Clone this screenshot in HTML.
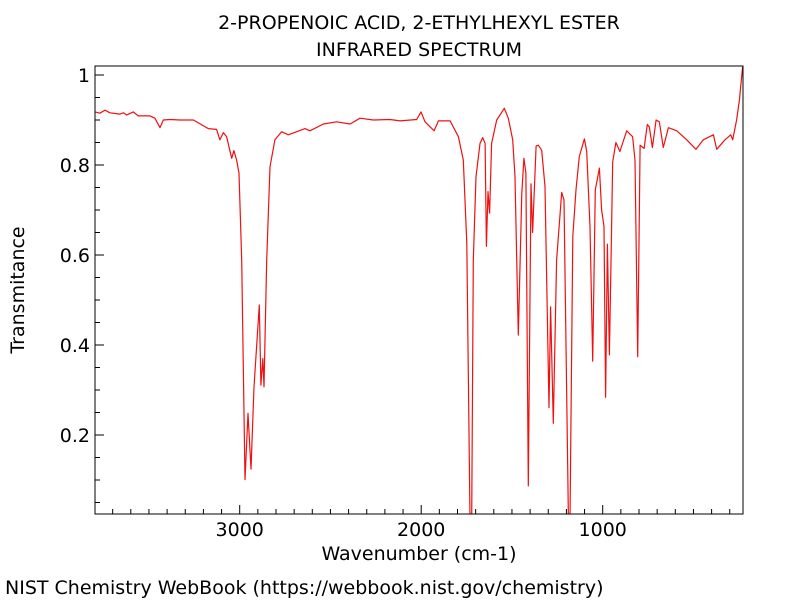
<!DOCTYPE html>
<html><head><meta charset="utf-8"><style>
body{margin:0;background:#fff}
svg text{font-family:"DejaVu Sans","Liberation Sans",sans-serif;fill:#000}
</style></head><body>
<svg id="chart" width="800" height="600">
<rect width="800" height="600" fill="#fff"/>
<text x="419" y="29" font-size="19" text-anchor="middle">2-PROPENOIC ACID, 2-ETHYLHEXYL ESTER</text>
<text x="419" y="56" font-size="19" text-anchor="middle">INFRARED SPECTRUM</text>
<g id="axes"></g>
<text x="419" y="560" font-size="19" text-anchor="middle">Wavenumber (cm-1)</text>
<text x="24" y="290" font-size="19" text-anchor="middle" transform="rotate(-90 24 290)">Transmitance</text>
<text x="5" y="594" font-size="19">NIST Chemistry WebBook (https://webbook.nist.gov/chemistry)</text>
</svg>
<script>
const wavenumbers=[3797,3770,3742,3715,3660,3641,3623,3586,3559,3494,3467,3439,3421,3384,3329,3255,3173,3127,3109,3090,3072,3044,3032,3017,3004,2989,2971,2954,2938,2921,2892,2883,2873,2866,2851,2833,2806,2769,2732,2686,2640,2613,2539,2466,2392,2337,2264,2172,2117,2025,2001,1979,1929,1905,1870,1841,1795,1768,1749,1731,1722,1713,1698,1676,1661,1648,1641,1632,1623,1612,1584,1542,1520,1496,1483,1465,1446,1434,1423,1410,1395,1386,1367,1355,1336,1318,1296,1287,1272,1254,1226,1213,1189,1180,1165,1147,1129,1101,1088,1070,1055,1041,1018,1006,993,984,974,963,945,927,905,868,835,822,807,794,772,754,743,726,706,688,666,638,592,537,486,446,390,372,326,295,284,262,247,229];
const transmittance=[0.918,0.915,0.922,0.916,0.913,0.916,0.911,0.918,0.909,0.909,0.904,0.883,0.900,0.901,0.900,0.900,0.881,0.879,0.856,0.872,0.863,0.815,0.832,0.811,0.782,0.589,0.101,0.248,0.124,0.307,0.489,0.311,0.370,0.307,0.589,0.796,0.856,0.874,0.867,0.874,0.881,0.876,0.891,0.896,0.891,0.904,0.900,0.901,0.898,0.901,0.918,0.896,0.876,0.898,0.898,0.898,0.863,0.811,0.626,0.015,0.015,0.589,0.774,0.848,0.861,0.848,0.619,0.741,0.693,0.848,0.900,0.926,0.904,0.856,0.774,0.422,0.737,0.815,0.782,0.087,0.758,0.650,0.842,0.844,0.833,0.752,0.261,0.485,0.226,0.589,0.739,0.722,0.015,0.015,0.641,0.745,0.819,0.858,0.830,0.663,0.364,0.745,0.793,0.700,0.663,0.284,0.624,0.378,0.807,0.850,0.830,0.876,0.863,0.811,0.374,0.844,0.837,0.890,0.885,0.839,0.900,0.896,0.839,0.883,0.876,0.856,0.835,0.856,0.867,0.835,0.856,0.867,0.856,0.900,0.944,1.018];
const xTickLabels=[3000,2000,1000];
const yTickLabels=[0.2,0.4,0.6,0.8,1];

const L=95,R=743,T=66,B=514;
const x=w=>239.7+(3000-w)*0.1815;
const y=t=>75+(1-t)*450;
const NS='http://www.w3.org/2000/svg';
const axes=document.getElementById('axes');
function mk(tag,attrs){const e=document.createElementNS(NS,tag);for(const k in attrs)e.setAttribute(k,attrs[k]);return e;}

const clip=mk('clipPath',{id:'plotclip'});clip.appendChild(mk('rect',{x:L,y:T,width:R-L,height:B-T}));axes.appendChild(clip);

for(let w=3700;w>=300;w-=100){const px=x(w);if(px<L||px>R)continue;const major=w%1000===0;
const t=mk('line',{x1:px,x2:px,y1:B,y2:B-(major?9:5),stroke:'#000','stroke-width':1});


axes.appendChild(t);}
xTickLabels.forEach(v=>{const tx=mk('text',{x:x(v),y:B+22,'font-size':19,'text-anchor':'middle'});tx.textContent=v;


axes.appendChild(tx);});
for(let i=0;i<=20;i++){const t=0.05*i;const py=y(t);if(py<T||py>B)continue;const major=i%4===0;
const tk=mk('line',{x1:L,x2:L+(major?9:5),y1:py,y2:py,stroke:'#000','stroke-width':1});


axes.appendChild(tk);}
yTickLabels.forEach(v=>{const tx=mk('text',{x:L-5,y:y(v)+7,'font-size':19,'text-anchor':'end'});tx.textContent=v;


axes.appendChild(tx);});

const pts=wavenumbers.map((w,i)=>x(w).toFixed(1)+','+y(transmittance[i]).toFixed(1)).join(' ');
const line=mk('polyline',{points:pts,fill:'none',stroke:'#f01010','stroke-width':1.2,'stroke-linejoin':'round','clip-path':'url(#plotclip)'});


axes.appendChild(line);

const frame=mk('rect',{x:L,y:T,width:R-L,height:B-T,fill:'none',stroke:'#000','stroke-width':1});


axes.appendChild(frame);
</script>
</body></html>
